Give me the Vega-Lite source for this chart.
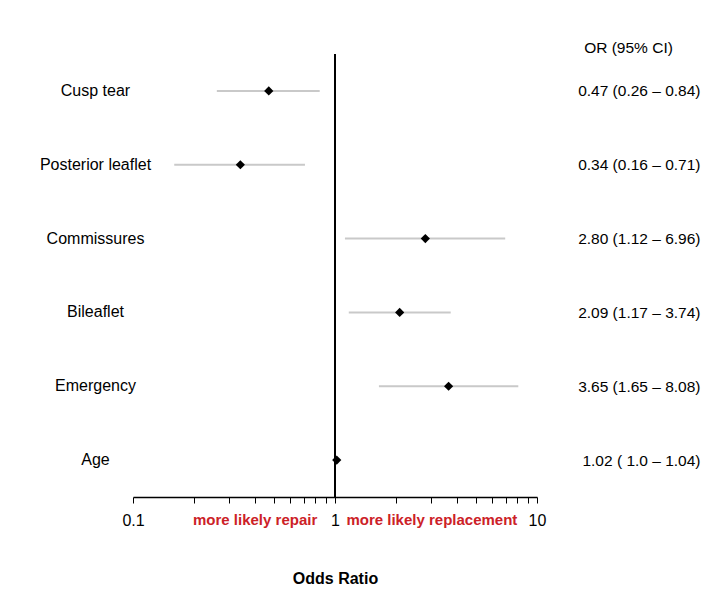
{
  "$schema": "https://vega.github.io/schema/vega-lite/v6.json",
  "width": 404,
  "height": 443,
  "autosize": {"type": "none"},
  "padding": {"left": 133, "top": 54, "right": 177, "bottom": 102},
  "background": "white",
  "config": {
    "view": {"stroke": null},
    "font": "Liberation Sans",
    "axis": {"grid": false}
  },
  "data": {
    "values": [
      {"label": "Cusp tear", "or": 0.47, "lo": 0.26, "hi": 0.84, "ci": "0.47 (0.26 – 0.84)"},
      {"label": "Posterior leaflet", "or": 0.34, "lo": 0.16, "hi": 0.71, "ci": "0.34 (0.16 – 0.71)"},
      {"label": "Commissures", "or": 2.80, "lo": 1.12, "hi": 6.96, "ci": "2.80 (1.12 – 6.96)"},
      {"label": "Bileaflet", "or": 2.09, "lo": 1.17, "hi": 3.74, "ci": "2.09 (1.17 – 3.74)"},
      {"label": "Emergency", "or": 3.65, "lo": 1.65, "hi": 8.08, "ci": "3.65 (1.65 – 8.08)"},
      {"label": "Age", "or": 1.02, "lo": 1.0, "hi": 1.04, "ci": "1.02 ( 1.0 – 1.04)"}
    ]
  },
  "layer": [
    {
      "mark": {"type": "rule", "color": "#c9c9c9", "strokeWidth": 2},
      "encoding": {
        "y": {
          "field": "label", "type": "nominal", "sort": null,
          "axis": {
            "title": null, "domain": false, "ticks": false,
            "labelAlign": "center", "labelPadding": 38,
            "labelFontSize": 16, "labelColor": "black", "labelLimit": 300
          }
        },
        "x": {
          "field": "lo", "type": "quantitative",
          "scale": {"type": "log", "domain": [0.1, 10], "nice": false},
          "axis": {
            "title": "Odds Ratio",
            "titleFontSize": 16, "titleFontWeight": "bold", "titleColor": "black",
            "titlePadding": 42,
            "values": [0.1, 0.2, 0.3, 0.4, 0.5, 0.6, 0.7, 0.8, 0.9, 1, 2, 3, 4, 5, 6, 7, 8, 9, 10],
            "labelExpr": "datum.value == 0.1 ? '0.1' : datum.value == 1 ? '1' : datum.value == 10 ? '10' : datum.value == 0.4 ? 'more likely repair' : datum.value == 3 ? 'more likely replacement' : ''",
            "labelColor": {"condition": {"test": "datum.value == 0.4 || datum.value == 3", "value": "#cc2127"}, "value": "black"},
            "labelFontWeight": {"condition": {"test": "datum.value == 0.4 || datum.value == 3", "value": "bold"}, "value": "normal"},
            "labelFontSize": {"condition": {"test": "datum.value == 0.4 || datum.value == 3", "value": 15}, "value": 16},
            "labelOverlap": false,
            "labelBound": false,
            "labelFlush": false,
            "labelPadding": 9,
            "tickSize": 6,
            "tickColor": "black",
            "domainColor": "black",
            "domainWidth": 1.5
          }
        },
        "x2": {"field": "hi"}
      }
    },
    {
      "mark": {"type": "rule", "color": "black", "strokeWidth": 1.5},
      "encoding": {"x": {"datum": 1}}
    },
    {
      "mark": {"type": "point", "shape": "diamond", "filled": true, "color": "black", "size": 85, "opacity": 1},
      "encoding": {
        "y": {
          "field": "ci", "type": "nominal", "sort": null,
          "axis": {
            "orient": "right",
            "title": "OR (95% CI)",
            "titleAngle": 0, "titleAlign": "center", "titleBaseline": "middle",
            "titleX": 91, "titleY": -7,
            "titleFontSize": 15.5, "titleFontWeight": "normal", "titleColor": "black",
            "domain": false, "ticks": false,
            "labelAlign": "right", "labelPadding": 163,
            "labelFontSize": 15.5, "labelColor": "black", "labelLimit": 300
          }
        },
        "x": {"field": "or", "type": "quantitative", "title": "Odds Ratio"}
      }
    }
  ],
  "resolve": {"scale": {"y": "independent"}}
}
